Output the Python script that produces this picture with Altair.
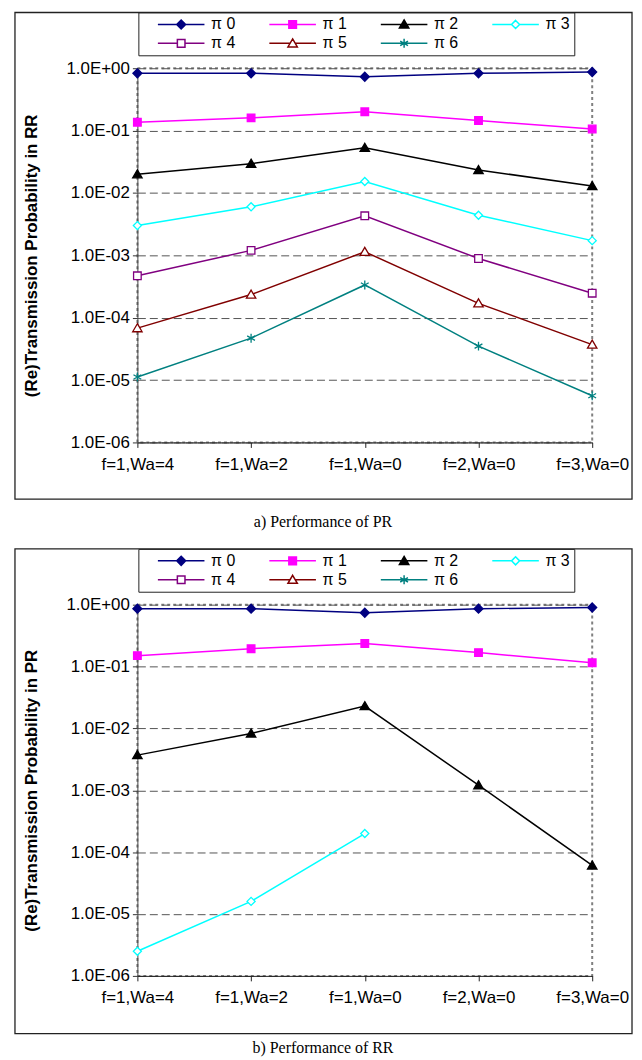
import altair as alt
import pandas as pd

categories = ["f=1,Wa=4", "f=1,Wa=2", "f=1,Wa=0", "f=2,Wa=0", "f=3,Wa=0"]
series = ["π 0", "π 1", "π 2", "π 3", "π 4", "π 5", "π 6"]
colors = ["#000080", "#FF00FF", "#000000", "#00FFFF", "#800080", "#800000", "#008080"]
fills = ["#000080", "#FF00FF", "#000000", "#FFFFFF", "#FFFFFF", "#FFFFFF", "#008080"]

# panel a) Performance of PR
a_pi0 = [0.83, 0.83, 0.73, 0.83, 0.87]
a_pi1 = [0.136, 0.16, 0.20, 0.145, 0.106]
a_pi2 = [0.020, 0.0295, 0.053, 0.0234, 0.0129]
a_pi3 = [0.0030, 0.0060, 0.0153, 0.0044, 0.00172]
a_pi4 = [0.00047, 0.0012, 0.0043, 0.00089, 0.000247]
a_pi5 = [6.8e-5, 2.35e-4, 1.14e-3, 1.7e-4, 3.7e-5]
a_pi6 = [1.12e-5, 4.7e-5, 3.35e-4, 3.5e-5, 5.6e-6]

# panel b) Performance of RR
b_pi0 = [0.86, 0.86, 0.74, 0.86, 0.90]
b_pi1 = [0.150, 0.194, 0.236, 0.168, 0.115]
b_pi2 = [0.0037, 0.0083, 0.0229, 0.00121, 6.1e-5]
b_pi3 = [2.5e-6, 1.6e-5, 2.0e-4]

y_ticks = [1, 1e-1, 1e-2, 1e-3, 1e-4, 1e-5, 1e-6]

marker_paths = [
    "M0,-1L1,0L0,1L-1,0Z",
    "M-0.85,-0.85H0.85V0.85H-0.85Z",
    "M0,-1L1.05,0.8H-1.05Z",
    "M0,-0.9L0.9,0L0,0.9L-0.9,0Z",
    "M-0.85,-0.85H0.85V0.85H-0.85Z",
    "M0,-1L1.05,0.8H-1.05Z",
    "M0,-1V1M-0.87,-0.5L0.87,0.5M-0.87,0.5L0.87,-0.5",
]
legend_paths = [
    "M-5.2,0H5.2M0,-1L1,0L0,1L-1,0Z",
    "M-5.2,0H5.2M-0.85,-0.85H0.85V0.85H-0.85Z",
    "M-5.2,0H5.2M0,-1L1.05,0.8H-1.05Z",
    "M-5.2,0H-0.9M0.9,0H5.2M0,-0.9L0.9,0L0,0.9L-0.9,0Z",
    "M-5.2,0H-0.85M0.85,0H5.2M-0.85,-0.85H0.85V0.85H-0.85Z",
    "M-5.2,0H-0.58M0.58,0H5.2M0,-1L1.05,0.8H-1.05Z",
    "M-5.2,0H5.2M0,-1V1M-0.87,-0.5L0.87,0.5M-0.87,0.5L0.87,-0.5",
]

FONT = "Liberation Sans"


def long_table(rows):
    recs = []
    for name, vals in zip(series, rows):
        for cat, v in zip(categories, vals):
            recs.append({"cat": cat, "series": name, "val": v})
    return pd.DataFrame(recs)


def panel(df, caption, ytitle, height, frame_bottom, cap_offset):
    base = alt.Chart(df)
    x = alt.X("cat:N", sort=categories,
              scale=alt.Scale(type="point", padding=0),
              axis=alt.Axis(title=None, labelAngle=0, labelFont=FONT, labelFontSize=17,
                            labelColor="black", labelPadding=9, tickSize=5,
                            tickColor="#222", domainColor="#222", grid=False))
    y = alt.Y("val:Q",
              scale=alt.Scale(type="log", domain=[1e-6, 1]),
              axis=alt.Axis(title=ytitle, values=y_ticks,
                            labelExpr="'1.0E' + (datum.value >= 1 ? '+00' : '-0' + toString(round(-log(datum.value) / LN10)))",
                            labelFont=FONT, labelFontSize=17, labelColor="black",
                            labelPadding=3, tickSize=5, tickColor="#333",
                            domainColor="#444", grid=True, gridColor="#555",
                            gridDash=[8, 4], gridWidth=1,
                            titleFont=FONT, titleFontSize=17, titleFontWeight="bold",
                            titleColor="black", titlePadding=26))
    lines = base.mark_line(strokeWidth=1.5).encode(
        x=x, y=y,
        color=alt.Color("series:N", scale=alt.Scale(domain=series, range=colors), legend=None),
    )
    points = base.mark_point(size=81, strokeWidth=1.3, opacity=1).encode(
        x=x, y=y,
        stroke=alt.Stroke("series:N", scale=alt.Scale(domain=series, range=colors), legend=None),
        fill=alt.Fill("series:N", scale=alt.Scale(domain=series, range=fills), legend=None),
        shape=alt.Shape("series:N", scale=alt.Scale(domain=series, range=marker_paths), legend=None),
    )
    legend_layer = base.mark_point(size=81, strokeWidth=1.5, opacity=1).encode(
        stroke=alt.Stroke("series:N", scale=alt.Scale(domain=series, range=colors)),
        fill=alt.Fill("series:N", scale=alt.Scale(domain=series, range=fills)),
        shape=alt.Shape("series:N", scale=alt.Scale(domain=series, range=legend_paths),
                        legend=alt.Legend(title=None, orient="none", legendX=1, legendY=-56,
                                          direction="horizontal", columns=4, padding=4,
                                          strokeColor="#222", fillColor="white",
                                          symbolSize=81, symbolStrokeWidth=1.5,
                                          symbolOffset=31, labelOffset=22,
                                          columnPadding=18, rowPadding=3,
                                          labelFont=FONT, labelFontSize=16,
                                          labelColor="black",
                                          labelExpr="datum.value == 'π 3' ? datum.label + '\u2003' : datum.label")),
    ).transform_filter("datum.val < 0")
    frame = alt.Chart(pd.DataFrame({"k": [0]})).mark_rect(
        fillOpacity=0, stroke="#222", strokeWidth=1.3
    ).encode(x=alt.value(-123), x2=alt.value(497), y=alt.value(-56), y2=alt.value(frame_bottom))
    return alt.layer(frame, lines, points, legend_layer).resolve_scale(
        stroke="independent", fill="independent", shape="independent"
    ).properties(
        width=457, height=height,
        title=alt.TitleParams(caption, orient="bottom", frame="group", anchor="middle",
                              font="Liberation Serif", fontSize=16, fontWeight="normal",
                              color="black", offset=cap_offset, dx=-42),
    )


df_a = long_table([a_pi0, a_pi1, a_pi2, a_pi3, a_pi4, a_pi5, a_pi6])
df_b = long_table([b_pi0, b_pi1, b_pi2, b_pi3])

top = panel(df_a, "a) Performance of PR", "(Re)Transmission Probability in RR", 376, 433, 14)
bottom = panel(df_b, "b) Performance of RR", "(Re)Transmission Probability in PR", 373, 431, 6)

chart = alt.vconcat(top, bottom, spacing=16).properties(
    padding={"left": 5, "top": 0, "right": 0, "bottom": 0}
).configure_view(
    stroke="#808080", strokeDash=[3, 3], strokeWidth=2
)

chart.save("out.html", embed_options={"renderer": "svg", "actions": False})
